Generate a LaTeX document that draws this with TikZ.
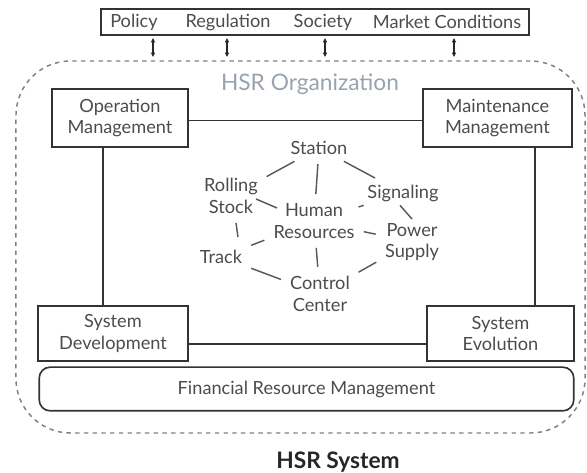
\documentclass[tikz,border=0pt]{standalone}
\usepackage{fontspec}
\setmainfont{Lato}
\usetikzlibrary{arrows.meta,positioning,calc}
\definecolor{inkgray}{HTML}{4C4C4C}
\definecolor{orggray}{HTML}{98A3AF}
\tikzset{
  box/.style={draw=black!80, line width=0.9pt, align=center, inner sep=2pt, text=inkgray},
  roundbox/.style={box, rounded corners=6pt},
  item/.style={align=center, inner sep=2pt, text=inkgray},
  link/.style={draw=black!80, line width=0.9pt},
  tie/.style={draw=black!65, line width=0.8pt, shorten <=3pt, shorten >=3pt},
  shorttie/.style={tie, shorten <=0pt, shorten >=0pt},
  dblarrow/.style={{Latex[length=2.6pt,width=2.6pt]}-{Latex[length=2.6pt,width=2.6pt]}, black!85, line width=0.8pt, shorten >=2pt, shorten <=1pt},
  orgbox/.style={draw=black!50, line width=0.8pt, dash pattern=on 2.4pt off 2.4pt, rounded corners=30pt},
}

\begin{document}
\begin{tikzpicture}[x=0.55pt, y=-0.55pt]
  \useasboundingbox (0,0) rectangle (587,473);

  % outer organization frame
  \node[orgbox, minimum width=313pt, minimum height=204.6pt] (org) at (300.5,247) {};
  \node[text=orggray, font=\fontsize{12.5}{14}\selectfont] (orgname) at (310,84) {HSR Organization};

  % environment
  \node[box, minimum width=235.4pt, minimum height=14.3pt] (env) at (315,22) {};
  \node[item] (policy) at (134,22) {Policy};
  \node[item] (regul) at (228,22) {Regulation};
  \node[item] (society) at (323,22) {Society};
  \node[item] (market) at (447,22) {Market Conditions};

  \coordinate (o1) at (153,61);
  \coordinate (o2) at (227,61);
  \coordinate (o3) at (325,61);
  \coordinate (o4) at (454,61);
  \foreach \o in {o1,o2,o3,o4}
    \draw[dblarrow] (\o |- env.south) -- (\o);

  % management boxes
  \node[box, minimum width=74.8pt, minimum height=31.9pt] (opm) at (120,118) {Operation\\Management};
  \node[box, minimum width=82pt, minimum height=31.9pt] (mtm) at (497.5,118) {Maintenance\\Management};
  \node[box, minimum width=82.5pt, minimum height=30.3pt] (sdev) at (113,333.5) {System\\Development};
  \node[box, minimum width=81pt, minimum height=30.3pt] (sevo) at (500.5,333.5) {System\\Evolution};
  \node[roundbox, minimum width=294pt, minimum height=24pt] (fin) at (306.5,389) {Financial Resource Management};

  \draw[link] ($(opm.east)+(0,2.5)$) -- ($(mtm.west)+(0,2.5)$);
  \coordinate (opmfoot) at ($(opm.south)+(-17,0)$);
  \coordinate (mtmfoot) at ($(mtm.south)+(37.5,0)$);
  \draw[link] (opmfoot) -- (opmfoot |- sdev.north);
  \draw[link] (mtmfoot) -- (mtmfoot |- sevo.north);
  \draw[link] ($(sdev.east)+(0,10.5)$) -- ($(sevo.west)+(0,10.5)$);

  % resources
  \node[item] (human) at (314,221) {Human\\Resources};
  \node[item] (station) at (319,148) {Station};
  \node[item] (rolling) at (231,196) {Rolling\\Stock};
  \node[item] (track) at (221,257) {Track};
  \node[item] (control) at (320,294) {Control\\Center};
  \node[item] (power) at (412,242) {Power\\Supply};
  \node[item] (signal) at (403,193) {Signaling};

  \draw[tie] (station) -- (rolling);
  \draw[tie] (station) -- (signal);
  \draw[tie] (station) -- (human);
  \draw[shorttie] ($(rolling.center)+(25,3)$) -- ($(human.center)+(-37,-13)$);
  \draw[shorttie] ($(rolling.center)+(5,27)$) -- ($(track.center)+(17,-20)$);
  \draw[tie] (human) -- (signal);
  \draw[shorttie] ($(signal.south)+(-3,0)$) -- (power.north);
  \draw[tie] (human) -- (power);
  \draw[tie] (human) -- (track);
  \draw[tie] (human) -- (control);
  \draw[tie] (track) -- (control);
  \draw[tie] (control) -- (power);

  % caption
  \node[text=black!85, font=\bfseries\fontsize{12.5}{14}\selectfont] (sysname) at (338,462) {HSR System};
\end{tikzpicture}
\end{document}
